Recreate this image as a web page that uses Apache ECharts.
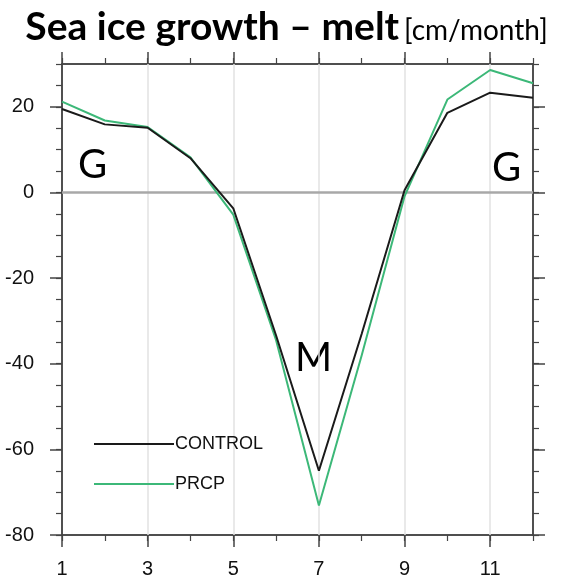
<!DOCTYPE html>
<html><head><meta charset="utf-8">
<script src="https://cdn.jsdelivr.net/npm/echarts@6/dist/echarts.min.js"></script>
<style>html,body{margin:0;padding:0;background:#fff}#c{width:573px;height:582px}</style>
</head><body><div id="c"></div>
<script>
const months = [1,2,3,4,5,6,7,8,9,10,11,12];
const control = [19.5,15.9,15.1,8.0,-3.7,-33.4,-65.0,-33.0,0.5,18.6,23.3,22.1];
const prcp = [21.2,16.8,15.3,8.2,-5.2,-34.5,-73.1,-38.0,-0.9,21.7,28.6,25.5];
const xMajor = [1,3,5,7,9,11];
const yMajor = [-80,-60,-40,-20,0,20];
const gridX = [3,5,7,9,11];

const chart = echarts.init(document.getElementById('c'));
const axisCol = '#444';
const labFont = {fontFamily:'Liberation Sans', fontSize:20, color:'#111'};
function xAx(pos, major){
  return {type:'value', min:1, max:12, interval:1, position:pos,
    axisLine:{show:true, onZero:false, lineStyle:{color:axisCol,width:1.5}},
    axisTick:major?{show:true,length:12,customValues:xMajor,lineStyle:{color:axisCol,width:1.5}}:{show:true,length:6,lineStyle:{color:axisCol,width:1.2}},
    axisLabel:(major&&pos==='bottom')?Object.assign({show:true,customValues:xMajor,margin:24},labFont):{show:false},
    splitLine:{show:false}};
}
function yAx(pos, major){
  return {type:'value', min:-80, max:30, interval:5, position:pos,
    axisLine:{show:true, onZero:false, lineStyle:{color:axisCol,width:1.5}},
    axisTick:major?{show:true,length:12,customValues:yMajor,lineStyle:{color:axisCol,width:1.5}}:{show:true,length:6,lineStyle:{color:axisCol,width:1.2}},
    axisLabel:(major&&pos==='left')?Object.assign({show:true,customValues:yMajor,margin:28},labFont):{show:false},
    splitLine:{show:false}};
}
chart.setOption({
  animation:false,
  backgroundColor:'#fff',
  title:{text:'{b|Sea ice growth – melt} {n|[cm/month]}', left:'center', top:3,
    textStyle:{rich:{
      b:{fontFamily:'Lato', fontWeight:'bold', fontSize:39, color:'#000'},
      n:{fontFamily:'Lato', fontWeight:'normal', fontSize:28, color:'#000', padding:[6,0,0,0]}
    }}},
  grid:{left:62, top:64, right:40, bottom:47, containLabel:false},
  xAxis:[xAx('bottom',false), xAx('bottom',true), xAx('top',false), xAx('top',true)],
  yAxis:[yAx('left',false), yAx('left',true), yAx('right',false), yAx('right',true)],
  legend:{orient:'vertical', left:89, top:430, itemWidth:80, itemHeight:2, itemGap:22, icon:'rect',
    textStyle:{fontFamily:'Liberation Sans', fontSize:18, color:'#111', padding:[0,0,0,-4]},
    data:['CONTROL','PRCP']},
  series:[
    {name:'CONTROL', type:'line', data:months.map((m,i)=>[m,control[i]]), symbol:'none',
      lineStyle:{color:'#1a1a1a', width:2}, itemStyle:{color:'#1a1a1a'}, z:3,
      markLine:{silent:true, symbol:'none', label:{show:false},
        data:[...gridX.map(v=>({xAxis:v, lineStyle:{color:'#e2e2e2', width:1.5, type:'solid'}})),
              {yAxis:0, lineStyle:{color:'#a8a8a8', width:2.5, type:'solid'}}], z:1}},
    {name:'PRCP', type:'line', data:months.map((m,i)=>[m,prcp[i]]), symbol:'none',
      lineStyle:{color:'#3cb878', width:2}, itemStyle:{color:'#3cb878'}, z:2}
  ],
  graphic:[
    {type:'text', left:78, top:145, style:{text:'G', font:'40px Lato', fill:'#000'}},
    {type:'text', left:492, top:148, style:{text:'G', font:'40px Lato', fill:'#000'}},
    {type:'text', left:295, top:338, style:{text:'M', font:'40px Lato', fill:'#000'}}
  ]
});
</script></body></html>
